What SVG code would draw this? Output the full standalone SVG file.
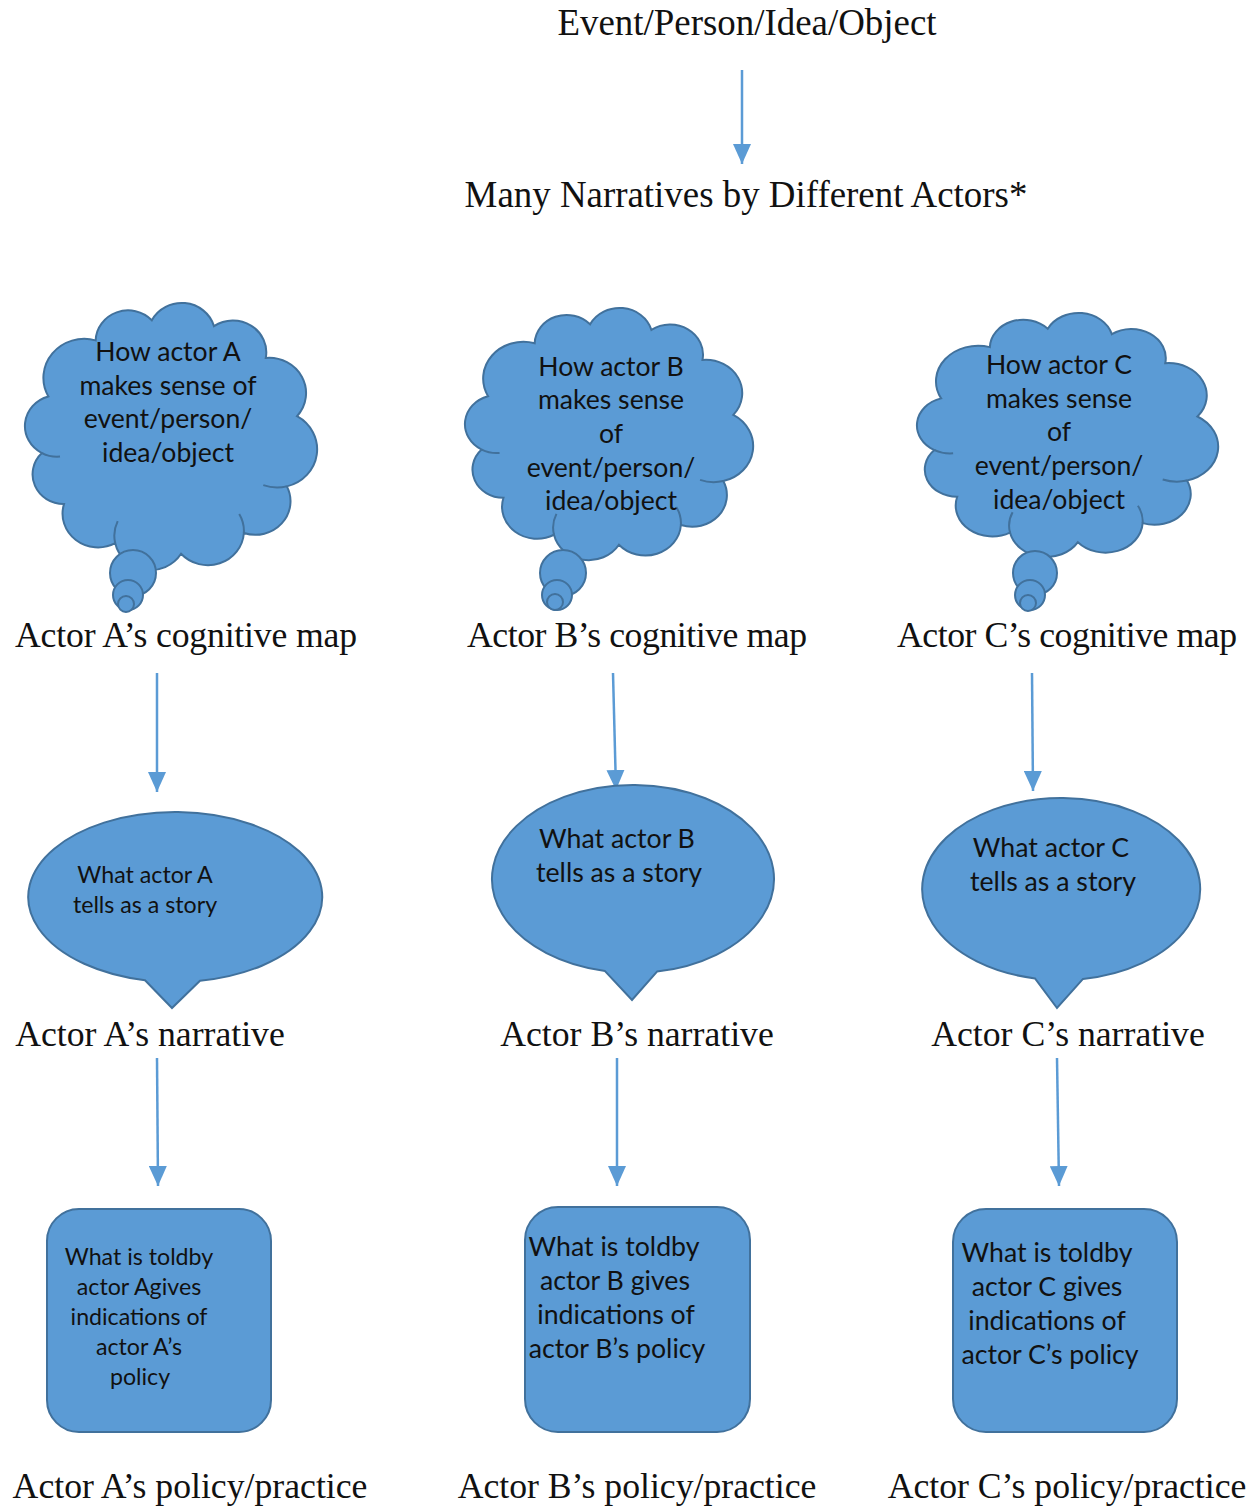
<svg xmlns="http://www.w3.org/2000/svg" width="1252" height="1506" viewBox="0 0 1252 1506">
<style>
.shape{fill:#5b9bd5;stroke:#41719c;stroke-width:2}
.inner{fill:none;stroke:#41719c;stroke-width:2}
.serif{font-family:"Liberation Serif","Times New Roman",serif;fill:#111;text-anchor:middle}
.t36{font-size:36.9px}
.t35{font-size:35.7px}
.sans{font-family:Lato,"Liberation Sans",sans-serif;fill:#111;text-anchor:middle}
.s27{font-size:26.6px}
.s28{font-size:26.7px}
.s24{font-size:23.2px}
.conn{stroke:#5b9bd5;stroke-width:2.5;fill:none;marker-end:url(#ah)}
</style>
<defs>
<marker id="ah" viewBox="0 0 20 18" refX="20" refY="9" markerWidth="20" markerHeight="18" markerUnits="userSpaceOnUse" orient="auto">
<path d="M0,0 L20,9 L0,18 Z" fill="#5b9bd5"/>
</marker>
<path id="cloud" vector-effect="non-scaling-stroke" d="M9.58,35.98 A13.6,13.6 0 0,1 25.32,16.42 A10.8,10.8 0 0,1 44.02,9.41 A11.2,11.2 0 0,1 64.71,11.47 A11.1,11.1 0 0,1 81.95,22.57 A12.3,12.3 0 0,1 92.35,42.88 A13.3,13.3 0 0,1 88.97,67.33 A11.7,11.7 0 0,1 74.66,83.58 A12,12 0 0,1 53.75,90.84 A12,12 0 0,1 31.83,87.16 A11.8,11.8 0 0,1 14.78,73.52 A10.4,10.4 0 0,1 7.42,55.71 A10.7,10.7 0 0,1 9.58,35.98 Z"/>
<path id="cloudInner" vector-effect="non-scaling-stroke" d="M88.97,67.33 A13.3,13.3 0 0,1 81.13,66.91 M7.42,55.71 A10.7,10.7 0 0,0 13.46,56.95 M31.83,87.16 A12,12 0 0,1 32.66,79.46 M74.66,83.58 A12,12 0 0,0 73.11,76.94"/>
</defs>
<rect width="1252" height="1506" fill="#fff"/>

<g id="top">
<text class="serif t36" x="747" y="35">Event/Person/Idea/Object</text>
</g>
<g id="many">
<text class="serif t36" x="746" y="207">Many Narratives by Different Actors*</text>
</g>

<g id="connectors">
<line class="conn" x1="742" y1="70" x2="742" y2="164"/>
<line class="conn" x1="157" y1="673" x2="157" y2="792"/>
<line class="conn" x1="613" y1="673" x2="616" y2="790"/>
<line class="conn" x1="1032" y1="673" x2="1033" y2="791"/>
<line class="conn" x1="157" y1="1058" x2="158" y2="1186"/>
<line class="conn" x1="617" y1="1058" x2="617" y2="1186"/>
<line class="conn" x1="1057" y1="1058" x2="1059" y2="1186"/>
</g>

<g id="cloudA">
<g transform="translate(19.59,293.25) scale(3.004,2.868)">
<use href="#cloud" class="shape"/>
<use href="#cloudInner" class="inner"/>
</g>
<circle class="shape" cx="133" cy="573" r="23"/>
<circle class="shape" cx="128" cy="595" r="15"/>
<circle class="shape" cx="126" cy="604" r="8"/>
<text class="sans s27" x="168" y="361">How actor A</text>
<text class="sans s27" x="168" y="395">makes sense of</text>
<text class="sans s27" x="168" y="428">event/person/</text>
<text class="sans s27" x="168" y="462">idea/object</text>
</g>

<g id="cloudB">
<g transform="translate(459.67,298.8) scale(2.963,2.707)">
<use href="#cloud" class="shape"/>
<use href="#cloudInner" class="inner"/>
</g>
<circle class="shape" cx="563" cy="573" r="23"/>
<circle class="shape" cx="557" cy="595" r="15"/>
<circle class="shape" cx="555" cy="602" r="8"/>
<text class="sans s27" x="611" y="376">How actor B</text>
<text class="sans s27" x="611" y="409">makes sense</text>
<text class="sans s27" x="611" y="443">of</text>
<text class="sans s27" x="611" y="477">event/person/</text>
<text class="sans s27" x="611" y="510">idea/object</text>
</g>

<g id="cloudC">
<g transform="translate(911.43,304.09) scale(3.097,2.621)">
<use href="#cloud" class="shape"/>
<use href="#cloudInner" class="inner"/>
</g>
<circle class="shape" cx="1035" cy="573" r="22"/>
<circle class="shape" cx="1030" cy="595" r="15"/>
<circle class="shape" cx="1028" cy="603" r="8"/>
<text class="sans s27" x="1059" y="374">How actor C</text>
<text class="sans s27" x="1059" y="408">makes sense</text>
<text class="sans s27" x="1059" y="441">of</text>
<text class="sans s27" x="1059" y="475">event/person/</text>
<text class="sans s27" x="1059" y="509">idea/object</text>
</g>

<g id="labelMapA"><text class="serif t35" x="186" y="647" textLength="342" lengthAdjust="spacing">Actor A’s cognitive map</text></g>
<g id="labelMapB"><text class="serif t35" x="637" y="647" textLength="340" lengthAdjust="spacing">Actor B’s cognitive map</text></g>
<g id="labelMapC"><text class="serif t35" x="1067" y="647" textLength="340" lengthAdjust="spacing">Actor C’s cognitive map</text></g>

<g id="bubbleA">
<path class="shape" d="M200,980.8 A147,85 0 1,0 145,980.2 L172,1008 Z"/>
<text class="sans s24" x="145" y="883">What actor A</text>
<text class="sans s24" x="145" y="913">tells as a story</text>
</g>
<g id="bubbleB">
<path class="shape" d="M657,971.6 A141,94 0 1,0 605,971.1 L632,1000 Z"/>
<text class="sans s28" x="617" y="848">What actor B</text>
<text class="sans s28" x="619" y="882">tells as a story</text>
</g>
<g id="bubbleC">
<path class="shape" d="M1083,978.9 A139,91 0 1,0 1035,978.4 L1057,1008 Z"/>
<text class="sans s28" x="1051" y="857">What actor C</text>
<text class="sans s28" x="1053" y="891">tells as a story</text>
</g>

<g id="labelNarrA"><text class="serif t35" x="150" y="1046">Actor A’s narrative</text></g>
<g id="labelNarrB"><text class="serif t35" x="637" y="1046">Actor B’s narrative</text></g>
<g id="labelNarrC"><text class="serif t35" x="1068" y="1046">Actor C’s narrative</text></g>

<g id="boxA">
<rect class="shape" x="47" y="1209" width="224" height="223" rx="32"/>
<text class="sans s24" x="139" y="1265">What is toldby</text>
<text class="sans s24" x="139" y="1295">actor Agives</text>
<text class="sans s24" x="139" y="1325">indications of</text>
<text class="sans s24" x="139" y="1355">actor A’s</text>
<text class="sans s24" x="140" y="1385">policy</text>
</g>
<g id="boxB">
<rect class="shape" x="525" y="1207" width="225" height="225" rx="33"/>
<text class="sans s28" x="614" y="1256">What is toldby</text>
<text class="sans s28" x="615" y="1290">actor B gives</text>
<text class="sans s28" x="616" y="1324">indications of</text>
<text class="sans s28" x="617" y="1358">actor B’s policy</text>
</g>
<g id="boxC">
<rect class="shape" x="953" y="1209" width="224" height="223" rx="33"/>
<text class="sans s28" x="1047" y="1262">What is toldby</text>
<text class="sans s28" x="1047" y="1296">actor C gives</text>
<text class="sans s28" x="1047" y="1330">indications of</text>
<text class="sans s28" x="1050" y="1364">actor C’s policy</text>
</g>

<g id="labelPolA"><text class="serif t35" x="190" y="1498">Actor A’s policy/practice</text></g>
<g id="labelPolB"><text class="serif t35" x="637" y="1498">Actor B’s policy/practice</text></g>
<g id="labelPolC"><text class="serif t35" x="1067" y="1498">Actor C’s policy/practice</text></g>
</svg>
